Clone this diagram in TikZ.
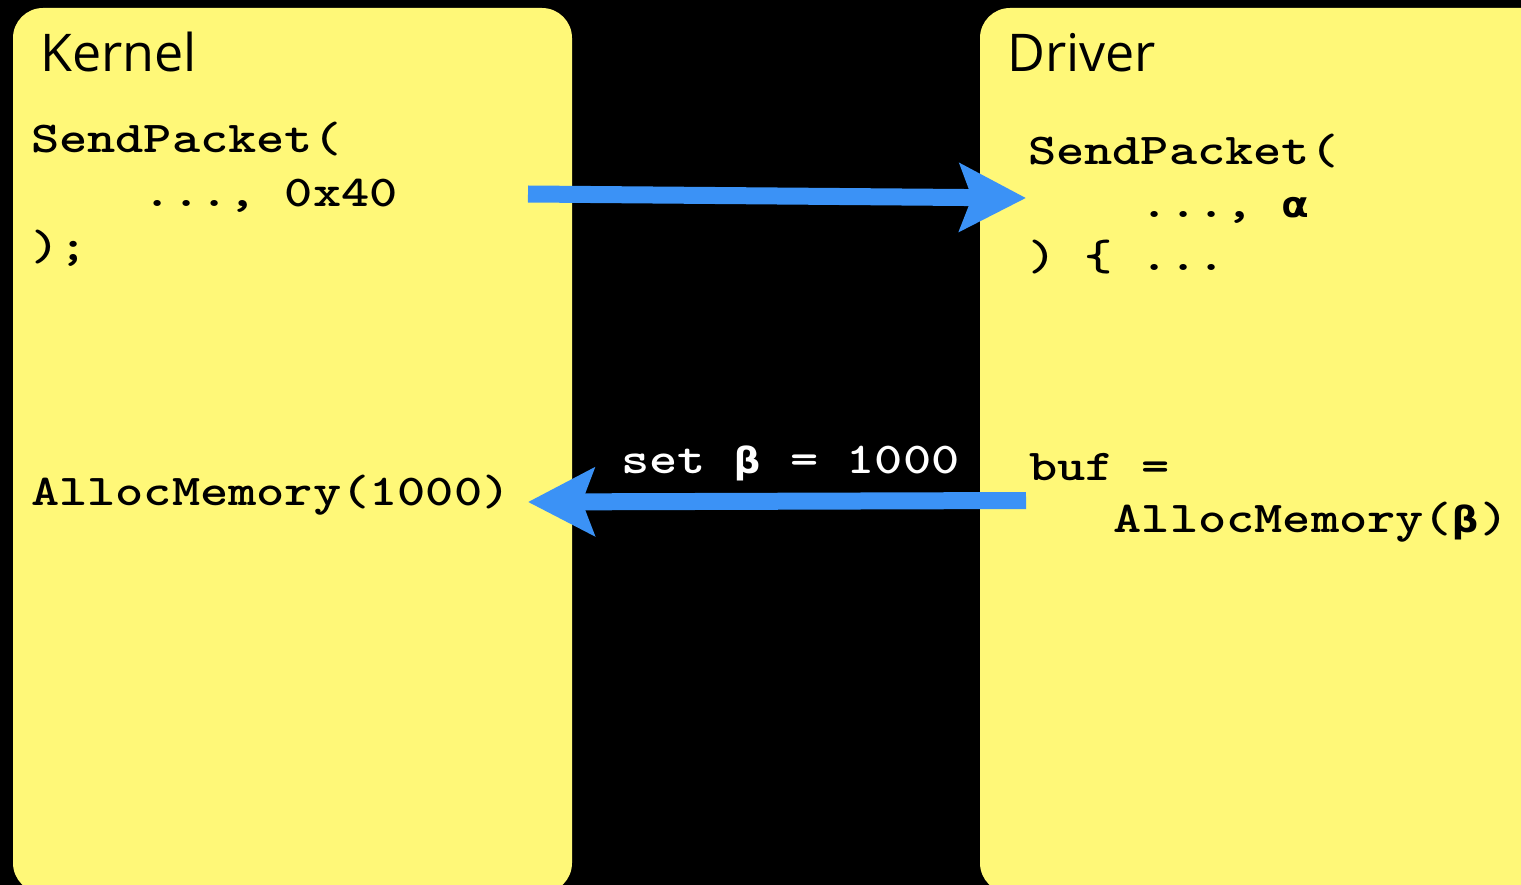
\documentclass[tikz,border=0pt]{standalone}
\usepackage{fontspec}
\usepackage{graphicx}
\usetikzlibrary{arrows.meta}
\newfontfamily\titlefont{Open Sans}
\newfontfamily\greekfont{DejaVu Sans Mono}
\definecolor{boxyellow}{RGB}{255,248,120}
\definecolor{arrowblue}{RGB}{59,146,246}
\newcommand\codetext[1]{\scalebox{1}[0.82]{\ttfamily\bfseries\fontsize{53.7}{54}\selectfont #1}}
\newcommand\gk[1]{\makebox[0.525em][c]{\greekfont\bfseries\fontsize{44}{44}\selectfont #1}}
\begin{document}
\begin{tikzpicture}[x=1pt,y=-1pt,
  boxstyle/.style={fill=boxyellow, rounded corners=30pt},
  title/.style={anchor=base west, inner sep=0pt, font=\titlefont\fontsize{52}{52}\selectfont},
  code/.style={anchor=base west, inner sep=0pt},
  flow/.style={draw=arrowblue, line width=17pt, -{Stealth[length=66pt,width=67pt,inset=12pt]}}]
\fill[black] (0,0) rectangle (1521,885);
\useasboundingbox (0,0) rectangle (1521,885);
\clip (0,0) rectangle (1521,885);
% panels
\fill[boxstyle] (13,8) rectangle (572,893);
\fill[boxstyle] (980,8) rectangle (1560,893);
% titles
\node[title] (kernel) at (40,72) {Kernel};
\node[title] (driver) at (1007,72) {Driver};
% kernel code
\node[code] (ksp1) at (31,153) {\codetext{SendPacket(}};
\node[code] (ksp2) at (31,207) {\codetext{\phantom{0000}..., 0x40}};
\node[code] (ksp3) at (31,261) {\codetext{);}};
\node[code] (kalloc) at (31,505) {\codetext{AllocMemory(1000)}};
% driver code
\node[code] (dsp1) at (1028,165) {\codetext{SendPacket(}};
\node[code] (dsp2) at (1028,218) {\codetext{\phantom{0000}..., \gk{α}}};
\node[code] (dsp3) at (1028,271) {\codetext{) \{ ...}};
\node[code] (dbuf) at (1029,480) {\codetext{buf =}};
\node[code] (dalloc) at (1029,532) {\codetext{\phantom{000}AllocMemory(\gk{β})}};
% label
\node[code, text=white] (setlbl) at (621,473) {\codetext{set \gk{β} = 1000}};
% arrows
\coordinate (a1s) at (528,194);
\coordinate (a1e) at (1026,198);
\coordinate (a2s) at (1026,500.5);
\coordinate (a2e) at (528,502);
\draw[flow] (a1s) -- (a1e);
\draw[flow] (a2s) -- (a2e);
\end{tikzpicture}
\end{document}
